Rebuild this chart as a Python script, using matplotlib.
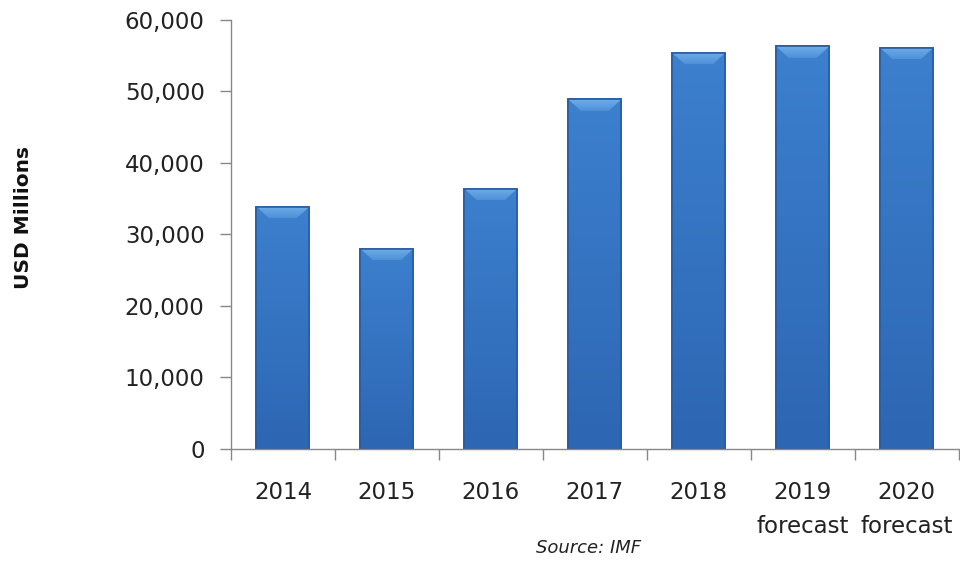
import matplotlib.pyplot as plt
import numpy as np
from matplotlib.patches import Polygon
from matplotlib.ticker import FuncFormatter

years = ["2014", "2015", "2016", "2017", "2018", "2019\nforecast", "2020\nforecast"]
values = [33900, 28000, 36400, 48900, 55400, 56300, 56100]

BODY = "#3a7bc8"
EDGE = "#2a5c9f"

fig = plt.figure(figsize=(9.6, 5.63), dpi=100)
ax = fig.add_axes([0.2406, 0.2025, 0.758, 0.762])

x = np.arange(len(years))
width = 0.51
bars = ax.bar(x, values, width=width, color=BODY, edgecolor=EDGE, linewidth=1.2, zorder=2)

# vertical shading inside each bar, plus a bevelled top
grad = np.linspace(0, 1, 256).reshape(-1, 1)
cmap = plt.matplotlib.colors.LinearSegmentedColormap.from_list("shade", ["#2d66b3", "#3c80ce"])
bevel_cmap = plt.matplotlib.colors.LinearSegmentedColormap.from_list("bevel", ["#4f90d8", "#6eaeea"])
bevel_h = 1600
inset = 0.12
for xi, v, b in zip(x, values, bars):
    x0, x1 = xi - width / 2, xi + width / 2
    im = ax.imshow(grad, cmap=cmap, aspect="auto", origin="lower",
                   extent=(x0, x1, 0, v), zorder=2.1)
    im.set_clip_path(b)
    bev = Polygon([(x0, v), (x1, v), (x1 - inset, v - bevel_h), (x0 + inset, v - bevel_h)],
                  closed=True, facecolor="none", edgecolor="none", zorder=2.2)
    ax.add_patch(bev)
    bim = ax.imshow(grad, cmap=bevel_cmap, aspect="auto", origin="lower",
                    extent=(x0, x1, v - bevel_h, v), zorder=2.2)
    bim.set_clip_path(bev)
    ax.add_patch(Polygon([(x0, v), (x1, v), (x1, 0), (x0, 0)], closed=True,
                         facecolor="none", edgecolor=EDGE, linewidth=1.2, zorder=2.3))

ax.set_xlim(-0.5, len(years) - 0.5)
ax.set_ylim(0, 60000)
ax.set_yticks(np.arange(0, 60001, 10000))
ax.yaxis.set_major_formatter(FuncFormatter(lambda v, p: f"{int(v):,}"))

ax.set_xticks(x)
ax.set_xticklabels(years, linespacing=1.6)
ax.set_xticks(np.arange(-0.5, len(years)), minor=True)
ax.tick_params(axis="x", which="major", length=0, pad=23, labelsize=16.5, colors="#222222")
ax.tick_params(axis="x", which="minor", length=8, width=1, color="#888888", direction="out")
ax.tick_params(axis="y", length=8, width=1, color="#888888", pad=11, labelsize=16.5, labelcolor="#222222")

for s in ["top", "right"]:
    ax.spines[s].set_visible(False)
for s in ["left", "bottom"]:
    ax.spines[s].set_color("#888888")
    ax.spines[s].set_linewidth(1)

fig.text(0.024, 0.613, "USD Millions", rotation=90, ha="center", va="center",
         fontsize=14.5, fontweight="bold", color="#111111")
fig.text(0.613, 0.027, "Source: IMF", ha="center", va="center",
         fontsize=13, style="italic", color="#222222")

fig.savefig("out.png", dpi=100)
